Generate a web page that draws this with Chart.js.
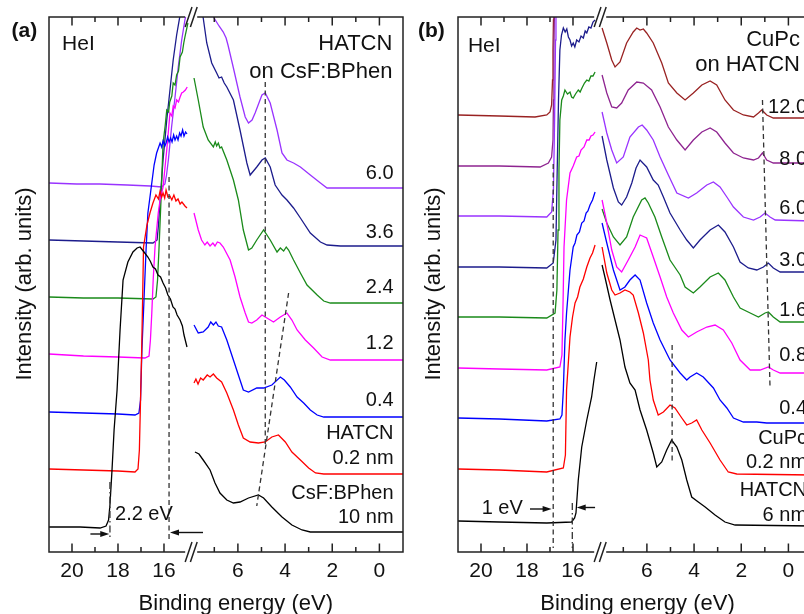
<!DOCTYPE html>
<html>
<head>
<meta charset="utf-8">
<script src="https://cdn.jsdelivr.net/npm/chart.js@4.4.1/dist/chart.umd.min.js"></script>
<style>
  html, body { margin: 0; padding: 0; background: #fff; overflow: hidden; }
  #wrap { position: relative; width: 804px; height: 614px; overflow: hidden; }
  canvas { position: absolute; top: 0; }
  #panelA { left: 0; }
  #panelB { left: 400px; }
</style>
</head>
<body>
<div id="wrap">
  <canvas id="panelA" width="420" height="614"></canvas>
  <canvas id="panelB" width="430" height="614"></canvas>
</div>
<script>
// ---- tick marks of the binding energy axis (eV) ----
const energyTicks = [20, 19, 18, 17, 16, 7, 6, 5, 4, 3, 2, 1, 0];
const energyTickLabels = [20, 18, 16, 6, 4, 2, 0];

// ---- (a) HATCN on CsF:BPhen : [binding energy eV, intensity] ----
// seco = secondary electron cutoff part, vb = valence part
const aSeco60 = [[21,36.9],[19.8,36.8],[18.8,36.8],[17.6,36.7],[16.6,36.6],[16.1,36.5],[15.96,36.8],[15.89,37.7],[15.81,39.2],[15.67,42.5],[15.52,45.5],[15.38,48.5],[15.23,51.2],[15.09,53.2],[14.95,54.8]];
const aVb60 = [[7.78,57.2],[7.01,53.4],[6.8,52.6],[6.62,52.0],[6.5,51.4],[6.42,50.7],[6.2,48.5],[5.91,45.5],[5.69,43.5],[5.55,42.9],[5.4,43.2],[5.27,43.9],[4.98,45.7],[4.84,45.9],[4.63,44.9],[4.34,42.2],[4.13,39.9],[3.92,39.2],[3.64,38.9],[3.35,38.5],[2.93,37.7],[2.5,36.9],[2.22,36.4],[1.65,36.4],[-1,36.4]];
const aSeco36 = [[21,31.2],[19.5,31.1],[18,31.0],[16.48,30.9],[16.3,31.2],[16.24,32.7],[16.17,35.2],[16.04,39.2],[15.88,43.2],[15.74,46.2],[15.6,49.2],[15.45,51.7],[15.3,53.7],[15.17,55.2]];
const aVb36 = [[7.82,57.2],[7.47,53.4],[7.32,50.9],[7.11,48.9],[6.9,47.9],[6.8,47.4],[6.69,47.5],[6.58,46.9],[6.47,46.5],[6.19,45.2],[5.91,42.2],[5.62,38.9],[5.48,37.7],[5.2,38.5],[4.98,39.2],[4.84,39.4],[4.63,38.5],[4.42,36.7],[4.13,35.7],[3.92,35.2],[3.64,34.4],[3.35,33.4],[2.93,31.9],[2.5,31.0],[2.22,30.7],[1.65,30.6],[-1,30.6]];
const aSeco24 = [[21,25.5],[19.5,25.4],[18,25.4],[16.48,25.3],[16.35,25.5],[16.28,27.2],[16.22,30.2],[16.13,35.2],[16.04,40.9],[15.95,42.6],[15.88,44.2],[15.8,44.0],[15.75,45.0],[15.66,45.6],[15.6,46.9],[15.52,46.7],[15.45,47.7],[15.37,48.1],[15.3,49.5],[15.2,50.0],[15.14,50.9],[15.09,51.5],[14.96,52.9]];
const aVb24 = [[7.86,47.4],[7.68,45.2],[7.47,42.5],[7.26,41.2],[7.04,40.5],[6.96,41.0],[6.9,40.6],[6.83,40.9],[6.76,40.4],[6.69,40.5],[6.47,39.2],[6.19,37.2],[5.98,35.2],[5.77,32.2],[5.55,30.2],[5.41,30.4],[5.2,31.2],[4.91,32.2],[4.63,31.2],[4.34,30.0],[4.2,30.4],[4.06,30.1],[3.95,30.5],[3.85,30.2],[3.64,29.2],[3.35,27.9],[3.07,26.7],[2.64,25.7],[2.36,25.1],[2.08,24.9],[-1,24.9]];
const aSeco12 = [[21,19.8],[19.5,19.6],[18,19.5],[16.83,19.4],[16.65,19.6],[16.59,21.2],[16.53,23.9],[16.47,27.2],[16.39,30.5],[16.25,33.9],[16.17,35.2],[16.04,36.5],[15.88,40.2],[15.74,43.9],[15.66,43.6],[15.6,44.6],[15.52,44.4],[15.45,45.2],[15.37,45.0],[15.3,45.5],[15.23,45.9],[15.16,46.0],[15.07,46.2],[14.99,46.5]];
const aVb12 = [[7.86,33.9],[7.68,32.2],[7.54,31.2],[7.4,30.7],[7.3,31.0],[7.18,30.6],[7.06,30.9],[6.97,30.6],[6.87,31.0],[6.76,30.9],[6.62,30.5],[6.33,29.2],[6.12,27.5],[5.91,25.5],[5.69,23.9],[5.55,23.0],[5.41,22.9],[5.2,23.2],[4.98,23.7],[4.77,23.4],[4.49,23.0],[4.2,23.5],[3.92,23.9],[3.71,23.2],[3.49,22.2],[3.14,21.2],[2.79,20.4],[2.43,19.5],[2.08,19.2],[-1,19.2]];
const aSeco04 = [[21,14.0],[19.5,13.9],[18,13.8],[17.26,13.7],[17.09,13.9],[17.02,15.2],[16.96,20.2],[16.87,25.2],[16.78,30.2],[16.7,33.9],[16.57,36.2],[16.43,38.7],[16.32,39.9],[16.17,40.9],[16.1,40.5],[16.04,41.1],[15.96,40.6],[15.91,40.9],[15.84,41.5],[15.78,41.0],[15.71,41.4],[15.65,41.0],[15.58,41.7],[15.52,41.2],[15.45,41.6],[15.39,41.2],[15.32,41.9],[15.26,41.6],[15.19,42.2],[15.13,41.6],[15.06,42.0],[15.0,41.8]];
const aVb04 = [[7.86,22.7],[7.68,21.9],[7.47,22.0],[7.26,22.5],[7.15,23.0],[7.04,22.7],[6.93,23.0],[6.83,22.6],[6.69,22.5],[6.47,21.2],[6.19,19.2],[5.91,17.2],[5.77,16.2],[5.55,16.0],[5.2,16.4],[4.91,16.4],[4.56,16.7],[4.2,17.5],[4.03,17.2],[3.78,16.5],[3.49,15.5],[3.21,14.9],[2.93,14.2],[2.64,13.7],[2.36,13.5],[-1,13.5]];
const aSeco02 = [[21,8.3],[19.5,8.2],[18,8.1],[17.26,8.0],[17.13,8.3],[17.07,10.2],[17.02,15.2],[16.97,20.2],[16.93,25.2],[16.89,30.5],[16.74,32.7],[16.61,33.9],[16.48,34.9],[16.35,35.7],[16.24,35.3],[16.17,36.1],[16.1,35.5],[16.04,35.9],[15.97,35.4],[15.91,36.2],[15.83,35.5],[15.74,35.6],[15.66,35.2],[15.57,35.7],[15.48,35.1],[15.39,35.3],[15.3,34.8],[15.22,35.0],[15.09,34.6],[15.0,34.4]];
const aVb02 = [[7.86,16.9],[7.78,17.3],[7.69,16.8],[7.58,17.4],[7.47,17.2],[7.3,17.7],[7.18,17.5],[7.04,17.8],[6.9,17.4],[6.69,17.0],[6.47,15.9],[6.19,14.2],[5.98,12.7],[5.77,11.4],[5.48,11.0],[5.13,10.9],[4.84,11.0],[4.56,11.5],[4.28,11.7],[3.99,11.0],[3.71,10.0],[3.35,9.2],[3.0,8.4],[2.71,7.9],[2.36,7.8],[-1,7.8]];
const aSecoBPhen = [[21,2.5],[19.65,2.5],[18.78,2.4],[18.52,2.6],[18.41,3.2],[18.35,4.7],[18.26,8.2],[18.17,12.2],[18.04,16.2],[17.91,22.2],[17.78,27.2],[17.57,29.0],[17.35,30.0],[17.17,30.4],[17.04,30.5],[16.87,30.0],[16.7,29.5],[16.6,29.1],[16.48,28.5],[16.37,28.3],[16.26,27.7],[16.15,27.5],[16.04,26.9],[15.93,26.4],[15.83,25.7],[15.72,25.3],[15.61,24.5],[15.52,24.3],[15.43,23.7],[15.3,23.2],[15.2,22.6],[15.13,21.7],[15.0,20.5]];
const aVbBPhen = [[7.82,10.0],[7.65,9.8],[7.47,9.2],[7.18,8.2],[6.97,6.9],[6.76,5.9],[6.47,5.2],[6.19,4.9],[5.91,5.0],[5.55,5.4],[5.13,5.7],[4.91,5.4],[4.56,4.5],[4.13,3.5],[3.71,2.7],[3.28,2.2],[2.93,2.0],[-1,2.0]];

// ---- (b) CuPc on HATCN ----
const bSeco120 = [[21,43.7],[19.2,43.6],[17.65,43.5],[17.14,43.7],[17.0,44.0],[16.93,44.7],[16.89,47.2],[16.87,50.2],[16.85,53.2],[16.83,55.2],[14.95,58]];
const bVb120 = [[7.9,52.4],[7.7,50.9],[7.49,49.2],[7.35,48.5],[7.14,49.0],[6.86,50.9],[6.58,52.0],[6.43,52.4],[6.29,52.2],[6.15,52.3],[6.01,51.9],[5.73,50.9],[5.37,48.9],[5.09,46.9],[4.73,45.9],[4.38,45.2],[4.03,45.9],[3.67,46.7],[3.32,47.1],[3.04,46.7],[2.69,45.2],[2.33,44.2],[1.91,43.7],[1.48,43.5],[1.27,43.9],[1.13,44.2],[0.92,43.7],[0.64,43.4],[-1,43.4]];
const bSeco80 = [[21,38.6],[19.2,38.6],[17.43,38.5],[17.07,38.9],[16.93,39.5],[16.87,41.2],[16.85,45.2],[16.83,50.2],[16.8,55.2],[14.95,58]];
const bVb80 = [[7.9,47.7],[7.7,45.9],[7.49,44.5],[7.28,44.4],[7.07,44.9],[6.79,46.2],[6.43,47.0],[6.15,46.9],[5.8,46.2],[5.44,44.5],[5.09,42.5],[4.73,41.2],[4.38,40.2],[4.03,41.2],[3.67,42.0],[3.32,42.4],[3.04,42.0],[2.69,40.9],[2.33,39.9],[1.91,39.4],[1.48,39.2],[1.27,39.4],[1.1,39.9],[0.92,39.2],[0.64,38.9],[-1,38.9]];
const bSeco60 = [[21,33.6],[19.2,33.6],[17.14,33.5],[16.93,34.0],[16.85,36.2],[16.8,43.2],[16.76,51.2],[16.74,55.2],[14.95,58]];
const bVb60 = [[7.9,44.0],[7.7,41.9],[7.49,40.2],[7.28,38.9],[7.0,39.5],[6.72,41.5],[6.36,42.5],[6.2,42.7],[6.01,42.2],[5.73,41.2],[5.44,39.5],[5.09,37.7],[4.73,35.9],[4.24,35.4],[3.89,35.9],[3.46,36.7],[3.18,37.0],[2.9,36.5],[2.61,35.5],[2.33,34.5],[1.91,33.5],[1.48,33.2],[1.2,33.5],[0.99,33.9],[0.78,33.5],[0.56,33.2],[-1,33.1]];
const bSeco30 = [[21,28.5],[19.2,28.5],[17.14,28.4],[16.86,28.9],[16.74,31.2],[16.71,35.2],[16.67,40.2],[16.63,45.2],[16.57,50.2],[16.5,51.7],[16.42,52.4],[16.34,52.0],[16.27,52.3],[16.2,51.5],[16.13,51.2],[16.06,50.6],[15.99,50.9],[15.92,50.5],[15.84,51.2],[15.74,51.0],[15.65,51.6],[15.55,51.4],[15.47,52.1],[15.4,51.9],[15.31,52.5],[15.22,52.4],[15.13,53.0],[15.04,53.2]];
const bVb30 = [[7.9,41.6],[7.7,39.2],[7.42,36.4],[7.21,35.0],[7.07,34.7],[6.86,35.5],[6.64,36.9],[6.46,38.4],[6.29,39.2],[6.01,38.5],[5.73,37.2],[5.52,36.7],[5.3,35.5],[5.02,33.9],[4.59,32.2],[4.31,31.2],[4.03,30.4],[3.75,31.2],[3.32,32.2],[2.97,32.7],[2.69,32.0],[2.33,30.5],[2.05,29.0],[1.7,28.4],[1.34,28.2],[1.06,28.5],[0.85,28.9],[0.64,28.4],[0.35,28.0],[-1,28.0]];
const bSeco16 = [[21,23.5],[19.2,23.5],[17.14,23.4],[16.78,23.9],[16.7,26.2],[16.65,32.2],[16.61,38.2],[16.57,43.2],[16.49,45.2],[16.42,45.6],[16.35,46.2],[16.24,45.8],[16.13,46.0],[16.06,45.5],[15.99,45.4],[15.89,45.8],[15.77,46.2],[15.69,46.0],[15.61,46.4],[15.5,46.9],[15.4,47.2],[15.31,47.1],[15.22,47.6],[15.13,47.6],[15.04,48.0]];
const bVb16 = [[7.9,34.3],[7.7,32.9],[7.42,31.5],[7.14,30.7],[6.86,31.5],[6.58,33.5],[6.22,35.2],[6.08,35.4],[5.94,34.9],[5.66,33.5],[5.37,31.5],[5.02,29.2],[4.59,27.7],[4.38,26.5],[4.03,25.9],[3.75,26.5],[3.32,27.5],[2.97,27.9],[2.69,27.2],[2.33,25.5],[2.05,24.4],[1.62,23.9],[1.27,23.5],[0.99,23.9],[0.85,24.0],[0.64,23.5],[0.35,23.0],[-1,23.0]];
const bSeco08 = [[21,18.4],[19.2,18.3],[17.14,18.2],[16.57,18.5],[16.48,19.7],[16.43,25.2],[16.39,30.5],[16.28,35.2],[16.13,37.9],[15.99,38.6],[15.84,39.5],[15.74,39.6],[15.65,40.2],[15.52,40.5],[15.4,41.2],[15.3,41.2],[15.22,41.6],[15.13,41.7],[15.04,42.0]];
const bVb08 = [[7.9,35.2],[7.7,32.9],[7.49,30.2],[7.28,28.5],[7.07,28.0],[6.79,29.2],[6.5,30.5],[6.29,31.7],[6.01,31.4],[5.73,29.5],[5.44,27.5],[5.16,25.5],[4.88,23.9],[4.52,22.2],[4.24,21.5],[3.89,22.0],[3.46,22.5],[3.11,22.7],[2.76,22.2],[2.4,20.9],[2.05,19.2],[1.62,18.2],[1.2,18.2],[0.85,18.5],[0.64,18.2],[0.35,17.9],[-1,17.9]];
const bSeco04 = [[21,13.4],[19.2,13.3],[17.14,13.1],[16.57,13.3],[16.48,13.7],[16.42,16.2],[16.35,21.2],[16.28,23.9],[16.13,28.2],[15.99,30.5],[15.91,30.9],[15.83,31.7],[15.72,32.0],[15.62,32.9],[15.52,33.1],[15.43,33.9],[15.35,34.1],[15.26,34.7],[15.15,35.2],[15.04,36.0]];
const bVb04 = [[7.9,32.9],[7.7,30.9],[7.42,28.2],[7.14,26.2],[6.93,26.5],[6.72,27.2],[6.5,27.7],[6.29,27.2],[6.01,24.9],[5.73,22.9],[5.44,21.2],[5.02,19.2],[4.59,17.9],[4.31,17.2],[4.17,17.5],[3.89,17.9],[3.61,17.5],[3.18,16.4],[2.9,15.2],[2.61,14.4],[2.33,13.4],[1.91,13.0],[1.34,13.0],[0.92,12.9],[-1,12.9]];
const bSeco02 = [[21,8.3],[19.2,8.2],[17.14,8.0],[16.42,8.4],[16.33,9.7],[16.28,16.2],[16.13,21.5],[16.02,23.5],[15.91,24.9],[15.8,25.5],[15.7,26.5],[15.55,27.3],[15.4,28.5],[15.26,29.4],[15.15,29.9],[15.04,30.7]];
const bVb02 = [[7.9,30.5],[7.7,27.9],[7.49,26.2],[7.35,25.7],[7.14,25.9],[6.93,26.2],[6.72,26.0],[6.58,25.7],[6.36,23.9],[6.15,21.9],[5.94,19.2],[5.87,17.2],[5.73,15.2],[5.52,13.7],[5.3,14.0],[5.02,14.7],[4.81,14.4],[4.52,13.4],[4.31,12.7],[4.1,12.9],[3.89,13.2],[3.67,12.2],[3.32,10.9],[2.9,9.2],[2.55,8.0],[2.19,7.8],[-1,7.7]];
const bSecoHATCN = [[21,3.1],[19.2,3.0],[17.14,2.9],[16.06,3.0],[15.93,3.4],[15.87,3.9],[15.77,7.2],[15.62,10.5],[15.4,13.2],[15.19,15.5],[15.09,17.2],[14.97,19.0]];
const bVbHATCN = [[7.9,28.7],[7.78,27.5],[7.56,25.2],[7.35,23.2],[7.14,21.2],[6.93,18.5],[6.72,16.9],[6.5,16.2],[6.29,14.2],[6.01,12.2],[5.73,9.9],[5.58,8.5],[5.37,9.0],[5.16,10.2],[4.95,11.2],[4.73,10.5],[4.52,9.2],[4.31,7.2],[4.1,5.5],[3.82,5.0],[3.53,4.5],[3.11,3.7],[2.69,3.0],[2.26,2.7],[-1,2.6]];

const FONT = "'Liberation Sans', Arial, Helvetica, sans-serif";
Chart.defaults.font.family = FONT;

// the energy axis is cut: 21..14.9 eV on the left, 7.9..-1 eV on the right
const SEC_HI = 21, SEC_LO = 14.9, VB_HI = 7.9, VB_LO = -1;
const SEC_FRAC = 0.3963, VB_FRAC = 0.407;

class BrokenEnergyScale extends Chart.LinearScale {
  buildTicks() {
    return energyTicks.map(v => ({ value: v }));
  }
  getPixelForValue(value) {
    if (value === null || value === undefined || isNaN(value)) return NaN;
    let f;
    if (value >= (SEC_LO + VB_HI) / 2) {
      f = (SEC_HI - value) / (SEC_HI - SEC_LO) * SEC_FRAC;
    } else {
      f = VB_FRAC + (VB_HI - value) / (VB_HI - VB_LO) * (1 - VB_FRAC);
    }
    return this.left + f * this.width;
  }
  getValueForPixel(pixel) {
    const f = (pixel - this.left) / this.width;
    if (f <= (SEC_FRAC + VB_FRAC) / 2) return SEC_HI - f / SEC_FRAC * (SEC_HI - SEC_LO);
    return VB_HI - (f - VB_FRAC) / (1 - VB_FRAC) * (VB_HI - VB_LO);
  }
}
BrokenEnergyScale.id = 'brokenEnergy';
Chart.register(BrokenEnergyScale);

function toPoints(seco, vb) {
  const pts = seco.map(([x, y]) => ({ x, y }));
  pts.push({ x: 11, y: null });
  vb.forEach(([x, y]) => pts.push({ x, y }));
  return pts;
}

function arrowHead(ctx, x1, y1, x2, y2) {
  const a = Math.atan2(y2 - y1, x2 - x1);
  ctx.beginPath();
  ctx.moveTo(x1, y1);
  ctx.lineTo(x2 - 8 * Math.cos(a), y2 - 8 * Math.sin(a));
  ctx.stroke();
  ctx.beginPath();
  ctx.moveTo(x2, y2);
  ctx.lineTo(x2 - 9 * Math.cos(a) + 3 * Math.sin(a), y2 - 9 * Math.sin(a) - 3 * Math.cos(a));
  ctx.lineTo(x2 - 9 * Math.cos(a) - 3 * Math.sin(a), y2 - 9 * Math.sin(a) + 3 * Math.cos(a));
  ctx.closePath();
  ctx.fill();
}

// frame, inward ticks, axis break, guide lines and all the text
function decorPlugin(d) {
  return {
    id: 'decor',
    afterDraw(chart) {
      const ctx = chart.ctx;
      const xs = chart.scales.x, ys = chart.scales.y;
      const { left, right, top, bottom } = chart.chartArea;
      const px = e => xs.getPixelForValue(e);
      const py = i => ys.getPixelForValue(i);
      ctx.save();

      const mid = (px(SEC_LO) + px(VB_HI)) / 2;
      ctx.strokeStyle = '#222';
      ctx.fillStyle = '#111';
      ctx.lineWidth = 1.5;
      ctx.beginPath();
      ctx.moveTo(mid - 6, top); ctx.lineTo(left, top); ctx.lineTo(left, bottom); ctx.lineTo(mid - 6, bottom);
      ctx.moveTo(mid + 6, top); ctx.lineTo(right, top); ctx.lineTo(right, bottom); ctx.lineTo(mid + 6, bottom);
      [top, bottom].forEach(y => [mid - 2.6, mid + 2.6].forEach(x => {
        ctx.moveTo(x - 3.4, y + 10); ctx.lineTo(x + 3.4, y - 10);
      }));
      energyTicks.forEach(v => {
        const x = px(v), len = energyTickLabels.includes(v) ? 8.5 : 5;
        ctx.moveTo(x, bottom); ctx.lineTo(x, bottom - len);
        ctx.moveTo(x, top); ctx.lineTo(x, top + len);
      });
      ctx.stroke();

      // guide lines
      ctx.lineWidth = 1.3;
      ctx.strokeStyle = '#333';
      ctx.setLineDash([5, 3.5]);
      d.dashed.forEach(([p, q]) => {
        ctx.beginPath(); ctx.moveTo(px(p[0]), py(p[1])); ctx.lineTo(px(q[0]), py(q[1])); ctx.stroke();
      });
      ctx.setLineDash([7, 3, 1.5, 3]);
      d.dashDot.forEach(([p, q]) => {
        ctx.beginPath(); ctx.moveTo(px(p[0]), py(p[1])); ctx.lineTo(px(q[0]), py(q[1])); ctx.stroke();
      });
      ctx.setLineDash([]);
      ctx.strokeStyle = '#111';
      ctx.lineWidth = 1.4;
      d.arrows.forEach(([p, q]) => arrowHead(ctx, px(p[0]), py(p[1]), px(q[0]), py(q[1])));

      // text
      ctx.textBaseline = 'middle';
      ctx.fillStyle = '#111';
      ctx.font = `21px ${FONT}`;
      ctx.textAlign = 'left';
      ctx.fillText('HeI', px(d.hei[0]), py(d.hei[1]));
      ctx.font = `22px ${FONT}`;
      ctx.textAlign = 'right';
      d.heading.forEach(([t, i]) => ctx.fillText(t, px(d.headingE), py(i)));
      ctx.font = `20px ${FONT}`;
      d.labels.forEach(([t, i]) => ctx.fillText(t, px(d.labelE), py(i)));
      ctx.textAlign = 'left';
      ctx.fillText(d.shift[0], px(d.shift[1]), py(d.shift[2]));

      ctx.font = `bold 21px ${FONT}`;
      ctx.fillText(d.tag, left + d.tagDx, 31);

      ctx.font = `22px ${FONT}`;
      ctx.textAlign = 'center';
      ctx.fillText('Binding energy (eV)', left + d.titleDx, 604);
      ctx.translate(left - 24.5, 284);
      ctx.rotate(-Math.PI / 2);
      ctx.fillText('Intensity (arb. units)', 0, 0);
      ctx.restore();
    }
  };
}

function makeChart(id, axisWidth, rightPad, series, decor) {
  return new Chart(document.getElementById(id), {
    type: 'line',
    data: {
      datasets: series.map(([seco, vb, color]) => ({
        data: toPoints(seco, vb),
        borderColor: color,
        borderWidth: 1.3,
        pointRadius: 0,
        tension: 0,
        spanGaps: false,
        fill: false
      }))
    },
    options: {
      responsive: false,
      animation: false,
      devicePixelRatio: 1,
      events: [],
      layout: { padding: { left: 0, right: rightPad, top: 17, bottom: 0 } },
      plugins: { legend: { display: false }, tooltip: { enabled: false } },
      scales: {
        x: {
          type: 'brokenEnergy',
          position: 'bottom',
          min: -1,
          max: 21,
          grid: { display: false, drawTicks: false },
          border: { display: false },
          ticks: {
            autoSkip: false, maxRotation: 0, minRotation: 0, padding: 7,
            color: '#111', font: { size: 21 },
            callback: v => energyTickLabels.includes(v) ? String(v) : ''
          },
          afterFit: s => { s.height = 62; }
        },
        y: {
          type: 'linear',
          position: 'left',
          min: 0,
          max: 53.5,
          grid: { display: false, drawTicks: false },
          border: { display: false },
          ticks: { display: false },
          afterFit: s => { s.width = axisWidth; }
        }
      }
    },
    plugins: [decorPlugin(decor)]
  });
}

makeChart('panelA', 49, 17, [
  [aSecoBPhen, aVbBPhen, '#000000'],
  [aSeco02, aVb02, '#ff0000'],
  [aSeco04, aVb04, '#0000ff'],
  [aSeco12, aVb12, '#ff00ff'],
  [aSeco24, aVb24, '#1a8a1a'],
  [aSeco36, aVb36, '#1c1c8c'],
  [aSeco60, aVb60, '#9933ff']
], {
  tag: '(a)', tagDx: -37.5, titleDx: 186.8,
  hei: [20.43, 50.8],
  heading: [['HATCN', 50.85], ['on CsF:BPhen', 48.0]], headingE: -0.55,
  labels: [['6.0', 37.9], ['3.6', 32.0], ['2.4', 26.5], ['1.2', 20.9], ['0.4', 15.2],
           ['HATCN', 11.9], ['0.2 nm', 9.4], ['CsF:BPhen', 5.9], ['10 nm', 3.5]],
  labelE: -0.6,
  shift: ['2.2 eV', 18.13, 3.8],
  dashed: [[[15.78, 37.5], [15.78, 1.2]], [[4.84, 47.0], [4.84, 10.7]], [[3.85, 25.9], [5.2, 4.6]]],
  dashDot: [[[18.35, 7.0], [18.35, 1.2]]],
  arrows: [[[19.2, 1.8], [18.38, 1.8]], [[7.48, 1.95], [15.74, 1.95]]]
});

makeChart('panelB', 58, 18, [
  [bSecoHATCN, bVbHATCN, '#000000'],
  [bSeco02, bVb02, '#ff0000'],
  [bSeco04, bVb04, '#0000ff'],
  [bSeco08, bVb08, '#ff00ff'],
  [bSeco16, bVb16, '#1a8a1a'],
  [bSeco30, bVb30, '#1c1c8c'],
  [bSeco60, bVb60, '#9933ff'],
  [bSeco80, bVb80, '#8e2490'],
  [bSeco120, bVb120, '#992222']
], {
  tag: '(b)', tagDx: -40, titleDx: 179.5,
  hei: [20.57, 50.6],
  heading: [['CuPc', 51.2], ['on HATCN', 48.7]], headingE: -0.49,
  labels: [['12.0', 44.5], ['8.0', 39.3], ['6.0', 34.4], ['3.0', 29.2], ['1.6', 24.2], ['0.8', 19.7],
           ['0.4', 14.4], ['CuPc', 11.4], ['0.2 nm', 9.0], ['HATCN', 6.2], ['6 nm', 3.7]],
  labelE: -0.79,
  shift: ['1 eV', 19.97, 4.4],
  dashed: [[[16.86, 38.8], [16.86, 0.4]], [[1.10, 45.2], [0.78, 16.5]], [[4.93, 20.7], [4.93, 8.9]]],
  dashDot: [[[16.03, 4.9], [16.03, 0.4]]],
  arrows: [[[17.87, 4.3], [16.93, 4.3]], [[15.04, 4.45], [15.84, 4.45]]]
});
</script>
</body>
</html>
